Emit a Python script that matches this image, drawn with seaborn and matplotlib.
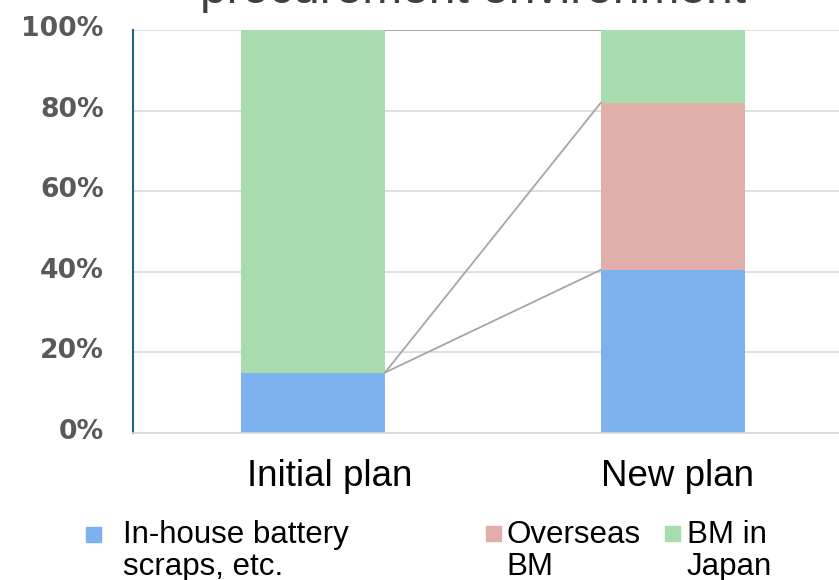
import matplotlib
matplotlib.use("Agg")
import matplotlib.pyplot as plt
import matplotlib.transforms as mtransforms
import seaborn as sns
import pandas as pd
import numpy as np
from matplotlib.patches import Rectangle

# ---- data ----
categories = ["Initial plan", "New plan"]
series_names = ["In-house battery\nscraps, etc.", "Overseas\nBM", "BM in\nJapan"]
inhouse = [15.0, 40.5]
overseas = [0.0, 41.5]
japan = [85.0, 18.0]
colors = ["#7db2f0", "#e0afa9", "#a8dbae"]
yticks = [0, 20, 40, 60, 80, 100]
ytick_labels = ["0%", "20%", "40%", "60%", "80%", "100%"]
title = "procurement environment"

sns.set_theme(style="white")
plt.rcParams["font.family"] = ["Liberation Sans", "DejaVu Sans"]

W, H = 839, 580
fig = plt.figure(figsize=(W / 100, H / 100), dpi=100)
ax = fig.add_axes([133 / W, 147 / H, 720 / W, 403 / H])

stack = np.array([inhouse, overseas, japan])
cum = np.cumsum(stack, axis=0)

# draw stacked bars from top layer down so that lower layers overlay
for i in reversed(range(len(series_names))):
    df = pd.DataFrame({"cat": categories, "val": cum[i]})
    sns.barplot(data=df, x="cat", y="val", color=colors[i], width=0.4,
                saturation=1, ax=ax, zorder=2, linewidth=0, errorbar=None)

# series lines between the bars
bw = 0.4
for i in range(len(series_names)):
    ax.plot([0 + bw / 2, 1 - bw / 2], [cum[i][0], cum[i][1]],
            color="#a5a5a5", lw=1.3, zorder=3)

ax.set_xlim(-0.5, 1.5)
ax.set_ylim(0, 100)
ax.set_yticks(yticks)
ax.set_yticklabels(ytick_labels)
# category labels sit slightly right of the bar centres in the reference
ax.set_xticks([0.045, 1.012])
ax.set_xticklabels(categories)
ax.yaxis.grid(True, color="#d9d9d9", lw=1.2, zorder=0)
ax.xaxis.grid(False)
ax.set_axisbelow(True)
ax.set_xlabel("")
ax.set_ylabel("")
for s in ["top", "right"]:
    ax.spines[s].set_visible(False)
ax.spines["left"].set_color("#1f6387")
ax.spines["left"].set_linewidth(1.5)
ax.spines["bottom"].set_color("#d9d9d9")
ax.spines["bottom"].set_linewidth(1.2)
ax.tick_params(axis="y", length=0, pad=21)
ax.tick_params(axis="x", length=0, pad=19)
shift = mtransforms.ScaledTranslation(0, 4 / 100, fig.dpi_scale_trans)
for tk in ax.yaxis.get_major_ticks():
    t = tk.label1
    t.set_fontfamily("DejaVu Sans")
    t.set_fontweight("bold")
    t.set_fontsize(19.2)
    t.set_color("#595959")
    t.set_transform(t.get_transform() + shift)
for t in ax.get_xticklabels():
    t.set_fontsize(26.5)
    t.set_color("black")

# title (top line cut off in reference)
fig.text(473 / W, (H - 3) / H, title, ha="center", va="baseline",
         fontsize=34.5, color="#404040")

# legend entries
leg_sq = [(86, 528), (486, 527), (665, 527)]
leg_tx = [123, 506, 687]
for i, name in enumerate(series_names):
    x0, y0 = leg_sq[i]
    fig.patches.append(Rectangle((x0 / W, (H - y0 - 14) / H), 15 / W, 15 / H,
                                 transform=fig.transFigure, color=colors[i]))
    fig.text(leg_tx[i] / W, (H - 575) / H, name, ha="left", va="baseline",
             fontsize=22.5, color="black", linespacing=1.1)

fig.savefig("out.png", dpi=100)
